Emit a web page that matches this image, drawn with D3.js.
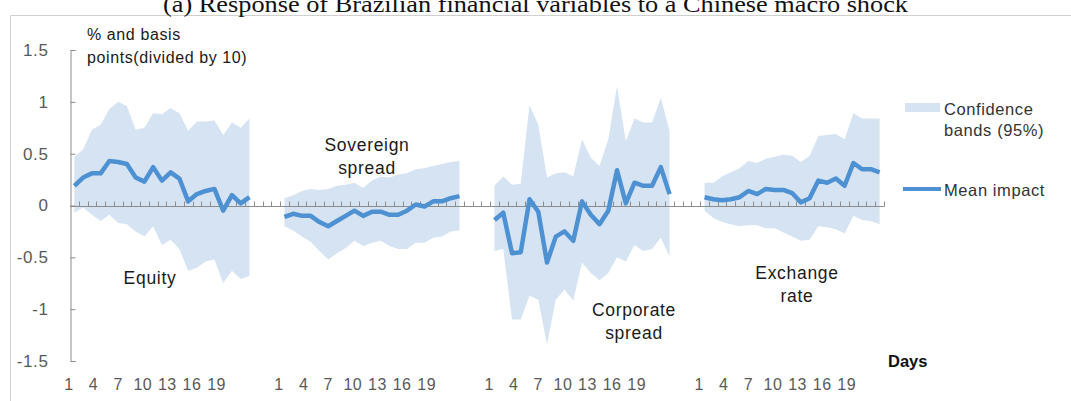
<!DOCTYPE html>
<html>
<head>
<meta charset="utf-8">
<script src="https://cdn.jsdelivr.net/npm/d3@7"></script>
<style>
  body { margin: 0; background: #fff; }
  svg { display: block; }
  text { font-family: "Liberation Sans", Arial, sans-serif; }
</style>
</head>
<body>
<div id="chart"></div>
<script>
// days shown on each panel, and the tick labels under it
const days = d3.range(1, 22);
const dayLabels = [1, 4, 7, 10, 13, 16, 19];
const panels = ['Equity', 'Sovereign spread', 'Corporate spread', 'Exchange rate'];
const yTicks = [-1.5, -1, -0.5, 0, 0.5, 1, 1.5];

// mean impact and 95% confidence bands
const equityMean  = [0.19, 0.27, 0.31, 0.31, 0.43, 0.42, 0.40, 0.27, 0.23, 0.37, 0.24, 0.32, 0.26, 0.04, 0.11, 0.14, 0.16, -0.05, 0.10, 0.02, 0.08];
const equityUpper = [0.47, 0.54, 0.73, 0.78, 0.93, 1.00, 0.96, 0.73, 0.75, 0.89, 0.88, 0.94, 0.89, 0.72, 0.81, 0.81, 0.82, 0.68, 0.80, 0.75, 0.84];
const equityLower = [-0.07, -0.02, -0.09, -0.15, -0.09, -0.17, -0.18, -0.25, -0.30, -0.20, -0.38, -0.33, -0.42, -0.63, -0.60, -0.54, -0.52, -0.75, -0.63, -0.71, -0.68];

const sovereignMean  = [-0.11, -0.08, -0.10, -0.10, -0.16, -0.20, -0.15, -0.10, -0.05, -0.10, -0.06, -0.06, -0.09, -0.09, -0.05, 0.01, -0.01, 0.04, 0.04, 0.07, 0.09];
const sovereignUpper = [0.07, 0.10, 0.14, 0.16, 0.15, 0.16, 0.19, 0.20, 0.22, 0.17, 0.24, 0.28, 0.27, 0.30, 0.31, 0.35, 0.36, 0.38, 0.40, 0.42, 0.43];
const sovereignLower = [-0.20, -0.24, -0.30, -0.35, -0.44, -0.52, -0.46, -0.41, -0.34, -0.39, -0.36, -0.34, -0.39, -0.42, -0.42, -0.36, -0.36, -0.31, -0.30, -0.25, -0.24];

const corporateMean  = [-0.14, -0.07, -0.46, -0.45, 0.06, -0.06, -0.55, -0.30, -0.25, -0.34, 0.04, -0.09, -0.18, -0.05, 0.34, 0.02, 0.22, 0.19, 0.19, 0.37, 0.11];
const corporateUpper = [0.19, 0.28, 0.20, 0.21, 0.97, 0.78, 0.27, 0.31, 0.32, 0.28, 0.64, 0.46, 0.38, 0.64, 1.15, 0.62, 0.84, 0.80, 0.80, 1.04, 0.72];
const corporateLower = [-0.44, -0.42, -1.10, -1.10, -0.87, -0.91, -1.34, -0.91, -0.81, -0.92, -0.55, -0.65, -0.72, -0.65, -0.50, -0.54, -0.38, -0.44, -0.42, -0.31, -0.49];

const exchangeMean  = [0.08, 0.06, 0.05, 0.06, 0.08, 0.14, 0.11, 0.16, 0.15, 0.15, 0.12, 0.03, 0.07, 0.24, 0.22, 0.26, 0.19, 0.41, 0.35, 0.35, 0.32];
const exchangeUpper = [0.22, 0.22, 0.28, 0.32, 0.36, 0.43, 0.41, 0.45, 0.47, 0.49, 0.48, 0.42, 0.48, 0.67, 0.68, 0.69, 0.64, 0.89, 0.84, 0.84, 0.84];
const exchangeLower = [-0.05, -0.12, -0.16, -0.18, -0.20, -0.19, -0.19, -0.22, -0.22, -0.26, -0.30, -0.34, -0.33, -0.20, -0.21, -0.23, -0.27, -0.10, -0.14, -0.15, -0.18];

const series = [
  { name: panels[0], mean: equityMean, upper: equityUpper, lower: equityLower },
  { name: panels[1], mean: sovereignMean, upper: sovereignUpper, lower: sovereignLower },
  { name: panels[2], mean: corporateMean, upper: corporateUpper, lower: corporateLower },
  { name: panels[3], mean: exchangeMean, upper: exchangeUpper, lower: exchangeLower }
];

const width = 1071, height = 401;
const gap = 3;                       // empty categories between panels
const perPanel = days.length + gap;
const nCats = panels.length * days.length + (panels.length - 1) * gap;

const bandColor = '#d5e3f3';
const lineColor = '#4e91d2';
const axisColor = '#8c8c8c';
const tickText = '#595959';

const svg = d3.select('#chart').append('svg')
  .attr('width', width)
  .attr('height', height);

// frame around the figure and the caption, which is cut off at the top edge
svg.append('path')
  .attr('d', `M10.5,${height + 5}V15.5H${width + 5}`)
  .attr('fill', 'none')
  .attr('stroke', '#cfcfcf');

svg.append('text')
  .attr('x', 535.5)
  .attr('y', 11.5)
  .attr('text-anchor', 'middle')
  .attr('textLength', 745)
  .attr('lengthAdjust', 'spacingAndGlyphs')
  .style('font-family', '"Liberation Serif", "Times New Roman", serif')
  .style('font-size', '23px')
  .attr('fill', '#111')
  .text('(a) Response of Brazilian financial variables to a Chinese macro shock');

const x = d3.scaleBand()
  .domain(d3.range(nCats))
  .range([70, 884])
  .padding(0);

const y = d3.scaleLinear()
  .domain([-1.5, 1.5])
  .range([361, 50]);

const cx = (p, i) => x(p * perPanel + i) + x.bandwidth() / 2;

// confidence bands
const area = d3.area()
  .x(d => d.x)
  .y0(d => y(d.lo))
  .y1(d => y(d.hi));

const line = d3.line()
  .x(d => d.x)
  .y(d => y(d.v));

series.forEach((s, p) => {
  const pts = days.map((day, i) => ({ x: cx(p, i), lo: s.lower[i], hi: s.upper[i] }));
  svg.append('path')
    .datum(pts)
    .attr('d', area)
    .attr('fill', bandColor);
});

// y axis with inward ticks
const yAxis = d3.axisLeft(y)
  .tickValues(yTicks)
  .tickSizeInner(-5)
  .tickSizeOuter(-5)
  .tickPadding(22)
  .tickFormat(d => String(d));

const yG = svg.append('g')
  .attr('transform', 'translate(70.5,0)')
  .call(yAxis);
yG.select('.domain').attr('stroke', axisColor);
yG.selectAll('.tick line').attr('stroke', axisColor);
yG.selectAll('.tick text')
  .attr('fill', tickText)
  .style('font-size', '17px')
  .style('letter-spacing', '0.6px')
  .style('font-family', '"Liberation Sans", Arial, sans-serif');

// zero line with small ticks at every category boundary
const zeroY = Math.round(y(0)) + 0.5;
svg.append('line')
  .attr('x1', x.range()[0])
  .attr('x2', x.range()[1])
  .attr('y1', zeroY)
  .attr('y2', zeroY)
  .attr('stroke', axisColor)
  .attr('stroke-width', 1.2);

svg.append('g')
  .selectAll('line')
  .data(d3.range(1, nCats + 1))
  .enter().append('line')
  .attr('x1', d => Math.round(x.range()[0] + d * x.step()) + 0.5)
  .attr('x2', d => Math.round(x.range()[0] + d * x.step()) + 0.5)
  .attr('y1', zeroY)
  .attr('y2', zeroY - 5)
  .attr('stroke', axisColor);

// mean impact lines
series.forEach((s, p) => {
  const pts = days.map((day, i) => ({ x: cx(p, i), v: s.mean[i] }));
  svg.append('path')
    .datum(pts)
    .attr('d', line)
    .attr('fill', 'none')
    .attr('stroke', lineColor)
    .attr('stroke-width', 4.5)
    .attr('stroke-linejoin', 'round');
});

// day labels under each panel (the text boxes sit a bit tighter than the points)
panels.forEach((name, p) => {
  const start = cx(p, 0) - 5.4;
  const lx = d3.scaleLinear().domain([1, 19]).range([start, start + 147.6]);
  svg.append('g')
    .selectAll('text')
    .data(dayLabels)
    .enter().append('text')
    .attr('x', d => lx(d))
    .attr('y', 390)
    .attr('text-anchor', 'middle')
    .attr('fill', tickText)
    .style('font-size', '16px')
    .style('letter-spacing', '0.5px')
    .text(d => d);
});

// panel names
const panelText = [
  { lines: ['Equity'], cx: 150, y: 284 },
  { lines: ['Sovereign', 'spread'], cx: 367, y: 151 },
  { lines: ['Corporate', 'spread'], cx: 634, y: 316 },
  { lines: ['Exchange', 'rate'], cx: 797, y: 279 }
];
panelText.forEach(t => {
  const txt = svg.append('text')
    .attr('text-anchor', 'middle')
    .attr('fill', '#1a1a1a')
    .style('font-size', '17.5px')
    .style('letter-spacing', '0.7px');
  t.lines.forEach((l, i) => {
    txt.append('tspan')
      .attr('x', t.cx)
      .attr('y', t.y + i * 23)
      .text(l);
  });
});

// y axis title
const yTitle = svg.append('text')
  .attr('fill', '#1a1a1a')
  .style('font-size', '16px')
  .style('letter-spacing', '0.6px');
yTitle.append('tspan').attr('x', 87).attr('y', 40).text('% and basis');
yTitle.append('tspan').attr('x', 87).attr('y', 63).text('points(divided by 10)');

// x axis title
svg.append('text')
  .attr('x', 888)
  .attr('y', 367)
  .attr('fill', '#111')
  .style('font-size', '16.5px')
  .style('font-weight', 'bold')
  .text('Days');

// legend
const legend = svg.append('g').attr('transform', 'translate(905,0)');
legend.append('rect')
  .attr('x', 0)
  .attr('y', 103)
  .attr('width', 35)
  .attr('height', 9)
  .attr('fill', bandColor);
const legText = legend.append('text')
  .attr('fill', '#333')
  .style('font-size', '16.5px')
  .style('letter-spacing', '0.6px');
legText.append('tspan').attr('x', 39).attr('y', 115).text('Confidence');
legText.append('tspan').attr('x', 39).attr('y', 136).text('bands (95%)');

legend.append('line')
  .attr('x1', -2)
  .attr('x2', 36)
  .attr('y1', 189)
  .attr('y2', 189)
  .attr('stroke', lineColor)
  .attr('stroke-width', 4);
legend.append('text')
  .attr('x', 39)
  .attr('y', 196)
  .attr('fill', '#333')
  .style('font-size', '16.5px')
  .style('letter-spacing', '0.6px')
  .text('Mean impact');
</script>
</body>
</html>
